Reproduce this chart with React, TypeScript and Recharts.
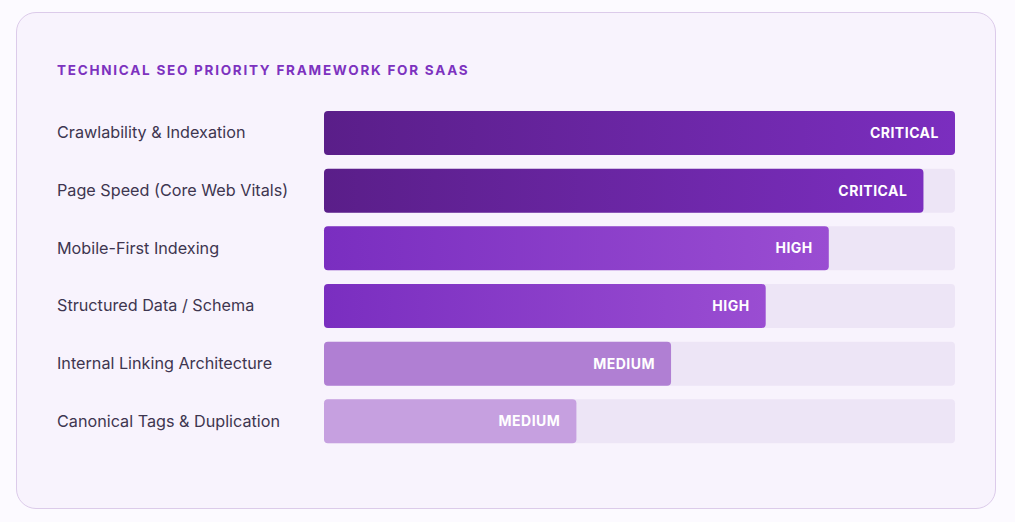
import React from "react"
import { Bar, BarChart, Cell, LabelList, XAxis, YAxis } from "recharts"

const factors = [
  "Crawlability & Indexation",
  "Page Speed (Core Web Vitals)",
  "Mobile-First Indexing",
  "Structured Data / Schema",
  "Internal Linking Architecture",
  "Canonical Tags & Duplication",
]
const scores = [100, 95, 80, 70, 55, 40]
const priorities = ["CRITICAL", "CRITICAL", "HIGH", "HIGH", "MEDIUM", "MEDIUM"]
const fills = ["url(#critical)", "url(#critical)", "url(#high)", "url(#high)", "#b07fd3", "#c6a0e0"]

const data = factors.map((name, i) => ({ name, score: scores[i], priority: priorities[i] }))

const font = "Inter, 'Noto Sans', sans-serif"

function FactorTick(props: any) {
  const { y, payload } = props
  return (
    <text x={57} y={y} dy={5.5} textAnchor="start" fill="#3e3650" fontSize={16.2} fontFamily={font}>
      {payload.value}
    </text>
  )
}

function PriorityLabel(props: any) {
  const { x, y, width, height, index } = props
  return (
    <text
      x={x + width - 16}
      y={y + height / 2}
      dy={5}
      textAnchor="end"
      fill="#ffffff"
      fontSize={14}
      fontWeight={700}
      letterSpacing={0.5}
      fontFamily={font}
    >
      {priorities[index]}
    </text>
  )
}

export default function App() {
  return (
    <div style={{ position: "absolute", left: 0, top: 0, width: 1015, height: 522, background: "#fcfaff", fontFamily: font }}>
      <div
        style={{
          position: "absolute",
          left: 16,
          top: 12,
          width: 980,
          height: 497,
          boxSizing: "border-box",
          border: "1px solid #dccbea",
          borderRadius: 20,
          background: "#f8f3fd",
        }}
      />
      <div
        style={{
          position: "absolute",
          left: 57,
          top: 62,
          fontSize: 13.5,
          fontWeight: 700,
          letterSpacing: 1.75,
          color: "#7d32bf",
          lineHeight: "16px",
        }}
      >
        TECHNICAL SEO PRIORITY FRAMEWORK FOR SAAS
      </div>
      <div style={{ position: "absolute", left: 0, top: 0 }}>
        <BarChart
          width={1015}
          height={522}
          data={data}
          layout="vertical"
          margin={{ top: 104, right: 60, bottom: 72, left: 57 }}
          barSize={44}
        >
          <defs>
            <linearGradient id="critical" x1="0" y1="0" x2="1" y2="0">
              <stop offset="0%" stopColor="#5a1e89" />
              <stop offset="100%" stopColor="#7b2ebf" />
            </linearGradient>
            <linearGradient id="high" x1="0" y1="0" x2="1" y2="0">
              <stop offset="0%" stopColor="#7a2ec0" />
              <stop offset="100%" stopColor="#9a4dd2" />
            </linearGradient>
          </defs>
          <XAxis type="number" domain={[0, 100]} hide />
          <YAxis
            type="category"
            dataKey="name"
            width={267}
            axisLine={false}
            tickLine={false}
            tick={<FactorTick />}
          />
          <Bar
            dataKey="score"
            isAnimationActive={false}
            radius={4}
            background={{ fill: "#ede5f6", radius: 4 }}
          >
            {data.map((d, i) => (
              <Cell key={d.name} fill={fills[i]} />
            ))}
            <LabelList dataKey="priority" content={<PriorityLabel />} />
          </Bar>
        </BarChart>
      </div>
    </div>
  )
}
